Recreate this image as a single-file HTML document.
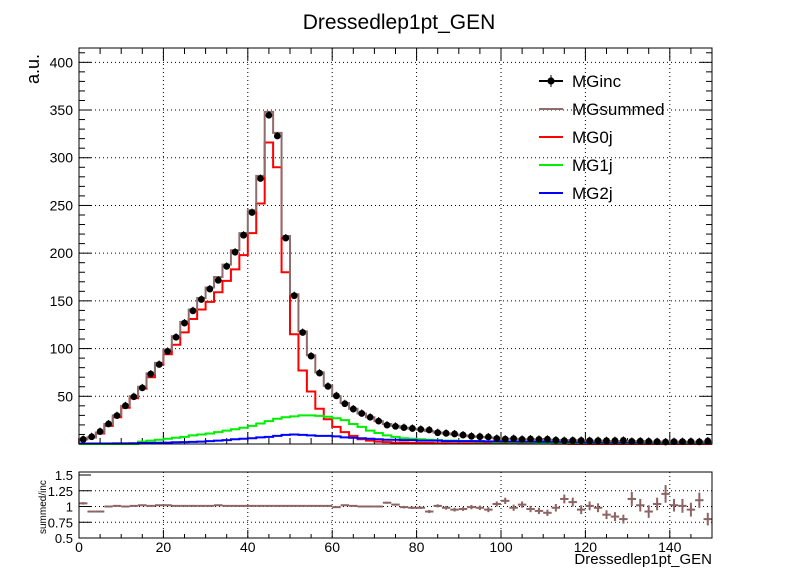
<!DOCTYPE html>
<html><head><meta charset="utf-8"><style>
html,body{margin:0;padding:0;background:#fff;}
svg{display:block;font-family:"Liberation Sans",Arial,sans-serif;}
</style></head><body>
<svg id="c" width="798" height="574" viewBox="0 0 798 574" xmlns="http://www.w3.org/2000/svg">
<rect width="798" height="574" fill="#fff"/>
<text x="399" y="29" text-anchor="middle" font-size="21">Dressedlep1pt_GEN</text>
<text transform="translate(39,84) rotate(-90)" font-size="18">a.u.</text>
<text transform="translate(46,534) rotate(-90)" font-size="10">summed/inc</text>
<text x="712" y="564" text-anchor="end" font-size="15">Dressedlep1pt_GEN</text>
<g id="main"></g>
<g id="ratio"></g>
<g id="legend"></g>
</svg>
<script>
const binEdgesStart = 0, binWidth = 2, nBins = 75;
const mgSummed = [5,7,12,21,30,40,50,60,74,85,99,113,128,141,153,164,175,188,203,221,245,281,348,326,218,157,118,93,75,61,50,43,37,32,28,24,21,19,17,16,15,13.5,12,11,10,9,8,7.5,7,6,5.5,5.5,5,5,4.5,4.5,4,4,4,3.5,3.5,3.5,3,3,3,3,3,2.5,2.5,2.5,2.5,2.5,2.5,2.5,2.5];
const mg0j = [5,7,11,19,28,38,48,58,70,83,94,104,117,131,141,149,159,171,183,198,221,252,316,290,180,115,77,55,37,26,18,12.5,8.5,5,3.5,2.5,2,1.5,1.5,1.2,1,1,0.8,0.8,0.7,0.7,0.6,0.6,0.5,0.5,0.5,0.5,0.4,0.4,0.4,0.4,0.3,0.3,0,0,0,0,0,0,0,0,0,0,0,0,0,0,0,0,0];
const mg1j = [0,0,0,0,0,0,0,2.5,3.5,4.5,5.5,6.5,7.5,9,10,11,12.5,14,15.5,17,19,21.5,24,26.5,28,29,30,30,29.5,28.5,27,25,21,18,14,11.5,9,7.5,6,5.5,5,4.5,4,3.5,3.5,3,3,2.5,2.5,2,2,2,1.8,1.8,1.6,1.5,1.5,1.4,1.3,1.2,1.2,1.1,1,1,1,1,0.9,0.9,0.8,0.8,0.8,0.7,0.7,0.7,0.7];
const mg2j = [0.5,0.5,0.5,0.5,0.6,0.7,0.8,1,1.2,1.3,1.5,1.8,2,2.2,2.5,3,3.5,4,5,5.5,6,7,7.5,8.5,9.5,10,9.5,9,8.5,8.5,8,7,6.5,6,5.5,5,4.5,4.5,4,4,3.5,3.5,3.5,3,3,3,3,3,2.8,2.8,2.6,2.6,2.5,2.5,2.4,2.4,2.3,2.3,2.2,2.1,2,2,2,2,2,2,2,2,2,2,2,2,2,2,2];
const ratioVals = [1.05,0.92,0.92,1.0,1.01,1.0,1.01,1.02,1.01,1.02,1.02,1.01,1.01,1.01,1.01,1.01,1.02,1.01,1.01,1.01,1.01,1.01,1.01,1.01,1.01,1.01,1.01,1.01,1.01,1.01,0.99,1.02,1.01,1.0,1.0,1.0,1.06,1.03,0.99,0.98,0.98,0.92,1.01,0.98,0.95,0.96,0.99,0.98,0.95,1.04,1.09,0.98,1.03,0.96,0.93,0.9,0.98,1.12,1.07,0.95,1.01,0.98,0.87,0.84,0.8,1.12,1.02,0.92,1.04,1.2,1.02,1.01,0.95,1.1,0.8];
const ratioErr = [0.02,0.01,0.01,0.01,0.01,0.005,0.005,0.005,0.005,0.005,0.005,0.005,0.005,0.005,0.005,0.005,0.005,0.005,0.005,0.005,0.005,0.005,0.005,0.005,0.005,0.005,0.005,0.005,0.005,0.005,0.01,0.01,0.01,0.01,0.01,0.01,0.015,0.015,0.02,0.02,0.02,0.025,0.025,0.03,0.03,0.03,0.035,0.035,0.04,0.04,0.05,0.05,0.05,0.05,0.05,0.05,0.06,0.07,0.07,0.07,0.07,0.07,0.07,0.07,0.07,0.11,0.1,0.1,0.1,0.14,0.1,0.11,0.11,0.12,0.1];
const mgInc = mgSummed.map((v,i)=>v/ratioVals[i]);
const yTicks = [50,100,150,200,250,300,350,400];
const xTicks = [0,20,40,60,80,100,120,140];
const rTicks = [0.5,0.75,1,1.25,1.5];
const rTickLabels = ["0.5","0.75","1","1.25","1.5"];

const NS="http://www.w3.org/2000/svg";
const L=79,R=712,T=48,B=444,RT=472,RB=538;
const X=v=>L+(v-0)/150*(R-L);
const Y=v=>B-v/415*(B-T);
const YR=v=>RB-(v-0.5)*63;
function el(p,tag,a){const e=document.createElementNS(NS,tag);for(const k in a)e.setAttribute(k,a[k]);p.appendChild(e);return e;}
const main=document.getElementById('main'), ratio=document.getElementById('ratio'), leg=document.getElementById('legend');

xTicks.slice(1).forEach(t=>{
  const g=el(main,'line',{x1:X(t),x2:X(t),y1:T,y2:B,stroke:'#000','stroke-width':1,'stroke-dasharray':'1,3'});
  
  const g2=el(ratio,'line',{x1:X(t),x2:X(t),y1:RT,y2:RB,stroke:'#000','stroke-width':1,'stroke-dasharray':'1,3'});
  
});
yTicks.forEach(t=>{
  const g=el(main,'line',{x1:L,x2:R,y1:Y(t),y2:Y(t),stroke:'#000','stroke-width':1,'stroke-dasharray':'1,3'});
  
  const lb=el(main,'text',{x:73,y:Y(t)+5,'text-anchor':'end','font-size':14});
  lb.textContent=t;
  
});
for(let v=10;v<=410;v+=10){el(main,'line',{x1:L,x2:L+(v%50?6:12),y1:Y(v),y2:Y(v),stroke:'#000'});el(main,'line',{x1:R,x2:R-(v%50?6:12),y1:Y(v),y2:Y(v),stroke:'#000'});}
for(let v=5;v<150;v+=5){const len=v%20?6:12;el(main,'line',{x1:X(v),x2:X(v),y1:B,y2:B-len,stroke:'#000'});el(main,'line',{x1:X(v),x2:X(v),y1:T,y2:T+len,stroke:'#000'});}

function hist(arr,color,w,name){
  let d=`M${X(0)},${Y(0)}`;
  arr.forEach((v,i)=>{const x0=X(binEdgesStart+i*binWidth),x1=X(binEdgesStart+(i+1)*binWidth);d+=`L${x0},${Y(v)}L${x1},${Y(v)}`;});
  const p=el(main,'path',{d:d,fill:'none',stroke:color,'stroke-width':w});
  
}
hist(mg0j,'#ff0000',2,'mg0j-histogram');
hist(mg1j,'#00ee00',2,'mg1j-histogram');
hist(mg2j,'#0000ff',2,'mg2j-histogram');
hist(mgSummed,'#906c6c',2,'mgsummed-histogram');
mgInc.forEach((v,i)=>{
  const cx=X(binEdgesStart+(i+0.5)*binWidth);
  el(main,'line',{x1:cx,x2:cx,y1:Y(v)-4,y2:Y(v)+2,stroke:'#000'});
  const c=el(main,'circle',{cx:cx,cy:Y(v),r:3.4,fill:'#000'});
  
});
el(main,'rect',{x:L,y:T,width:R-L,height:B-T,fill:'none',stroke:'#000','stroke-width':1});

rTicks.forEach((t,i)=>{
  if(t>0.5&&t<1.5){const g=el(ratio,'line',{x1:L,x2:R,y1:YR(t),y2:YR(t),stroke:'#000','stroke-dasharray':'1,3'});
  }
  const lb=el(ratio,'text',{x:73,y:YR(t)+5,'text-anchor':'end','font-size':13});
  lb.textContent=rTickLabels[i];
  
  el(ratio,'line',{x1:L,x2:L+12,y1:YR(t),y2:YR(t),stroke:'#000'});
});
for(let v=5;v<150;v+=5){const len=v%20?4:8;el(ratio,'line',{x1:X(v),x2:X(v),y1:RB,y2:RB-len,stroke:'#000'});}
xTicks.forEach(t=>{
  const lb=el(ratio,'text',{x:X(t),y:552,'text-anchor':'middle','font-size':14});
  lb.textContent=t;
  
});
ratioVals.forEach((v,i)=>{
  const x0=X(i*binWidth),x1=X((i+1)*binWidth),cx=(x0+x1)/2;
  const g=el(ratio,'g',{stroke:'#8c6464','stroke-width':2});
  
  el(g,'line',{x1:x0,x2:x1,y1:YR(v),y2:YR(v)});
  el(g,'line',{x1:cx,x2:cx,y1:YR(v+ratioErr[i]),y2:YR(v-ratioErr[i])});
});
el(ratio,'rect',{x:L,y:RT,width:R-L,height:RB-RT,fill:'none',stroke:'#000'});

const legNames=['MGinc','MGsummed','MG0j','MG1j','MG2j'];
const legColors=['#000','#906c6c','#ff0000','#00ee00','#0000ff'];
legNames.forEach((n,i)=>{
  const y=81+i*28;
  const g=el(leg,'g',{});
  
  el(g,'line',{x1:539,x2:563,y1:y,y2:y,stroke:legColors[i],'stroke-width':2});
  if(i===0){el(g,'circle',{cx:551,cy:y,r:3.6,fill:'#000'});el(g,'line',{x1:551,x2:551,y1:y-6,y2:y+6,stroke:'#000'});}
  const t=el(g,'text',{x:572,y:y+6,'font-size':17});t.textContent=n;
});
</script>
</body></html>
